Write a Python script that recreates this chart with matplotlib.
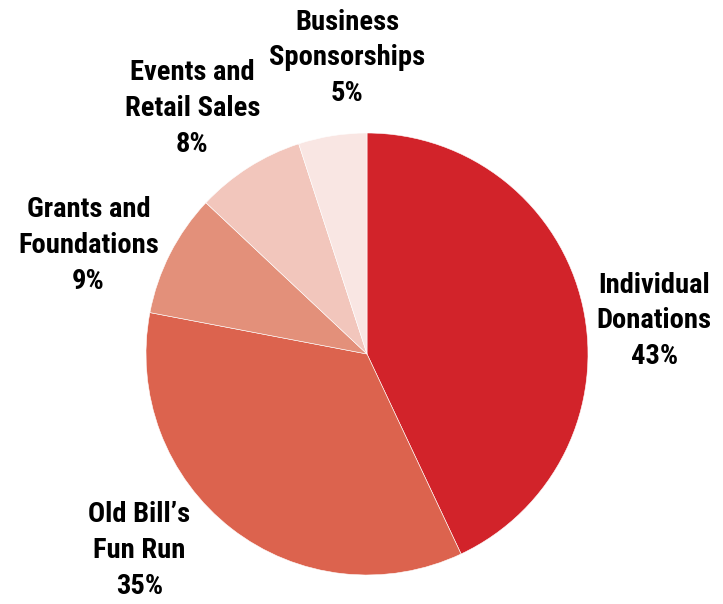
import matplotlib
matplotlib.use("Agg")
import matplotlib.pyplot as plt
from matplotlib import font_manager as fm

# revenue shares, clockwise from 12 o'clock
labels = ["Individual\nDonations", "Old Bill\u2019s\nFun Run", "Grants and\nFoundations",
          "Events and\nRetail Sales", "Business\nSponsorships"]
shares = [43, 35, 9, 8, 5]
colors = ["#D2232A", "#DC634E", "#E3907A", "#F2C6BC", "#F9E6E3"]

# label anchor points (data coords, pie radius = 1)
label_pos = [(1.30, 0.15), (-1.03, -0.89), (-1.26, 0.49), (-0.79, 1.11), (-0.09, 1.34)]

# pick the narrowest bold face that is installed
font_name = None
for cand in ["Roboto Condensed", "Liberation Sans Narrow", "Open Sans Condensed",
             "Noto Sans Condensed", "DejaVu Sans Condensed"]:
    if any(f.name == cand for f in fm.fontManager.ttflist):
        font_name = cand
        break
font_kw = {"family": font_name or "DejaVu Sans", "weight": "bold"}
if font_name is None:
    font_kw["stretch"] = "condensed"

fig = plt.figure(figsize=(7.23, 6.04), dpi=100)
cx, cy, r = 367, 354, 221
ax = fig.add_axes([(cx - r) / 723, (604 - cy - r) / 604, 2 * r / 723, 2 * r / 604])
ax.pie(shares, colors=colors, startangle=90, counterclock=False, radius=1,
       wedgeprops={"linewidth": 0.4, "edgecolor": "white"})
ax.set_xlim(-1, 1)
ax.set_ylim(-1, 1)
ax.set_aspect("auto")
ax.axis("off")

for lab, val, (x, y) in zip(labels, shares, label_pos):
    ax.text(x, y, f"{lab}\n{val}%", ha="center", va="center", fontsize=20.5,
            linespacing=1.42, color="black", **font_kw)

fig.savefig("out.png", dpi=100)
